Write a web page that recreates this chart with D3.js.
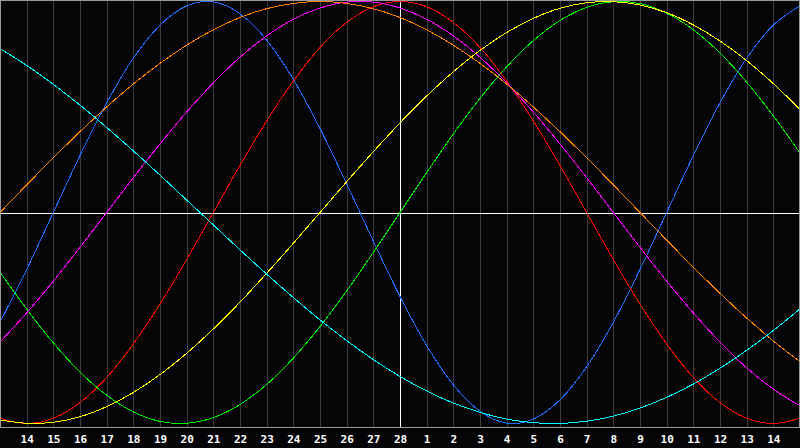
<!DOCTYPE html>
<html>
<head>
<meta charset="utf-8">
<script src="https://cdn.jsdelivr.net/npm/d3@7"></script>
<style>
  html, body { margin: 0; padding: 0; background: #050407; }
  svg { display: block; }
</style>
</head>
<body>
<svg id="chart" width="800" height="448"></svg>
<script>
// Day labels along the bottom (index 0 = left edge, 30 = right edge)
const dayLabels = ["13","14","15","16","17","18","19","20","21","22","23","24","25","26","27","28",
                   "1","2","3","4","5","6","7","8","9","10","11","12","13","14","15"];
const dayIndex = d3.range(0, 31);
const centerIndex = 15; // "28" – today

// Cycle values in percent (-100..100), one per day
const physical23     = [-52.0,-27.0,0,27.0,52.0,73.1,88.8,97.9,99.8,94.2,81.7,63.1,39.8,13.6,-13.6,-39.8,-63.1,-81.7,-94.2,-99.8,-97.9,-88.8,-73.1,-52.0,-27.0,0,27.0,52.0,73.1,88.8,97.9];
const emotional28    = [-97.5,-100,-97.5,-90.1,-78.2,-62.3,-43.4,-22.3,0,22.3,43.4,62.3,78.2,90.1,97.5,100,97.5,90.1,78.2,62.3,43.4,22.3,0,-22.3,-43.4,-62.3,-78.2,-90.1,-97.5,-100,-97.5];
const intellectual33 = [-28.2,-45.8,-61.8,-75.6,-86.6,-94.5,-99.0,-99.9,-97.2,-91.0,-81.5,-69.0,-54.1,-37.2,-18.9,0,18.9,37.2,54.1,69.0,81.5,91.0,97.2,99.9,99.0,94.5,86.6,75.6,61.8,45.8,28.2];
const intuitive38    = [-61.4,-47.6,-32.5,-16.5,0,16.5,32.5,47.6,61.4,73.6,83.7,91.6,96.9,99.7,99.7,96.9,91.6,83.7,73.6,61.4,47.6,32.5,16.5,0,-16.5,-32.5,-47.6,-61.4,-73.6,-83.7,-91.6];
const aesthetic43    = [-98.3,-99.9,-99.4,-96.8,-92.0,-85.3,-76.8,-66.7,-55.2,-42.5,-28.8,-14.6,0,14.6,28.8,42.5,55.2,66.7,76.8,85.3,92.0,96.8,99.4,99.9,98.3,94.7,88.9,81.3,72.0,61.1,48.9];
const awareness48    = [0,13.1,25.9,38.3,50.0,60.9,70.7,79.3,86.6,92.4,96.6,99.1,100,99.1,96.6,92.4,86.6,79.3,70.7,60.9,50.0,38.3,25.9,13.1,0,-13.1,-25.9,-38.3,-50.0,-60.9,-70.7];
const spiritual53    = [77.7,69.7,60.7,50.9,40.3,29.2,17.7,5.9,-5.9,-17.7,-29.2,-40.3,-50.9,-60.7,-69.7,-77.7,-84.6,-90.3,-94.7,-97.9,-99.6,-100.0,-98.9,-96.5,-92.7,-87.6,-81.3,-73.8,-65.3,-55.9,-45.7];

const seriesNames  = ["physical","emotional","intellectual","intuitive","aesthetic","awareness","spiritual"];
const seriesValues = [physical23, emotional28, intellectual33, intuitive38, aesthetic43, awareness48, spiritual53];
const seriesColors = ["#1e6eff","#ff0000","#00ee00","#ff00ff","#ffff00","#ff8000","#00ffff"];

const W = 800, plotBottom = 427.5;
const svg = d3.select("#chart");

svg.append("rect").attr("x",0).attr("y",0).attr("width",800).attr("height",448).attr("fill","#050407");

const x = d3.scaleLinear().domain([0, 30]).range([0, W]);
const y = d3.scaleLinear().domain([-100, 100]).range([423.5, 1.5]);

// vertical day grid + labels
const axis = d3.axisBottom(x)
  .tickValues(d3.range(1, 30))
  .tickSize(-plotBottom)
  .tickPadding(8)
  .tickFormat(i => dayLabels[i]);

const gAxis = svg.append("g")
  .attr("transform", `translate(0,${plotBottom})`)
  .call(axis);
gAxis.select(".domain").remove();
gAxis.selectAll(".tick line")
  .attr("stroke", d => d === centerIndex ? "#ffffff" : "#3c3c3c")
  .attr("shape-rendering", "crispEdges");
gAxis.selectAll(".tick text")
  .attr("fill", "#ffffff")
  .attr("font-family", "'DejaVu Sans Mono', 'Liberation Mono', monospace")
  .attr("font-weight", "bold")
  .attr("font-size", 11);

// horizontal zero line
svg.append("line")
  .attr("x1", 0).attr("x2", W)
  .attr("y1", 213.5).attr("y2", 213.5)
  .attr("stroke", "#ffffff").attr("shape-rendering", "crispEdges");

// curves
const line = d3.line()
  .x((d, i) => x(dayIndex[i]))
  .y(d => y(d))
  .curve(d3.curveCardinal.tension(0));

svg.append("g").selectAll("path")
  .data(seriesValues)
  .join("path")
  .attr("d", d => line(d))
  .attr("fill", "none")
  .attr("stroke", (d, i) => seriesColors[i])
  .attr("stroke-width", 1)
  .attr("shape-rendering", "crispEdges");

// frame
svg.append("rect")
  .attr("x", 0.5).attr("y", 0.5)
  .attr("width", W - 1).attr("height", plotBottom - 0.5)
  .attr("fill", "none")
  .attr("stroke", "#9a9a9a")
  .attr("shape-rendering", "crispEdges");
</script>
</body>
</html>
